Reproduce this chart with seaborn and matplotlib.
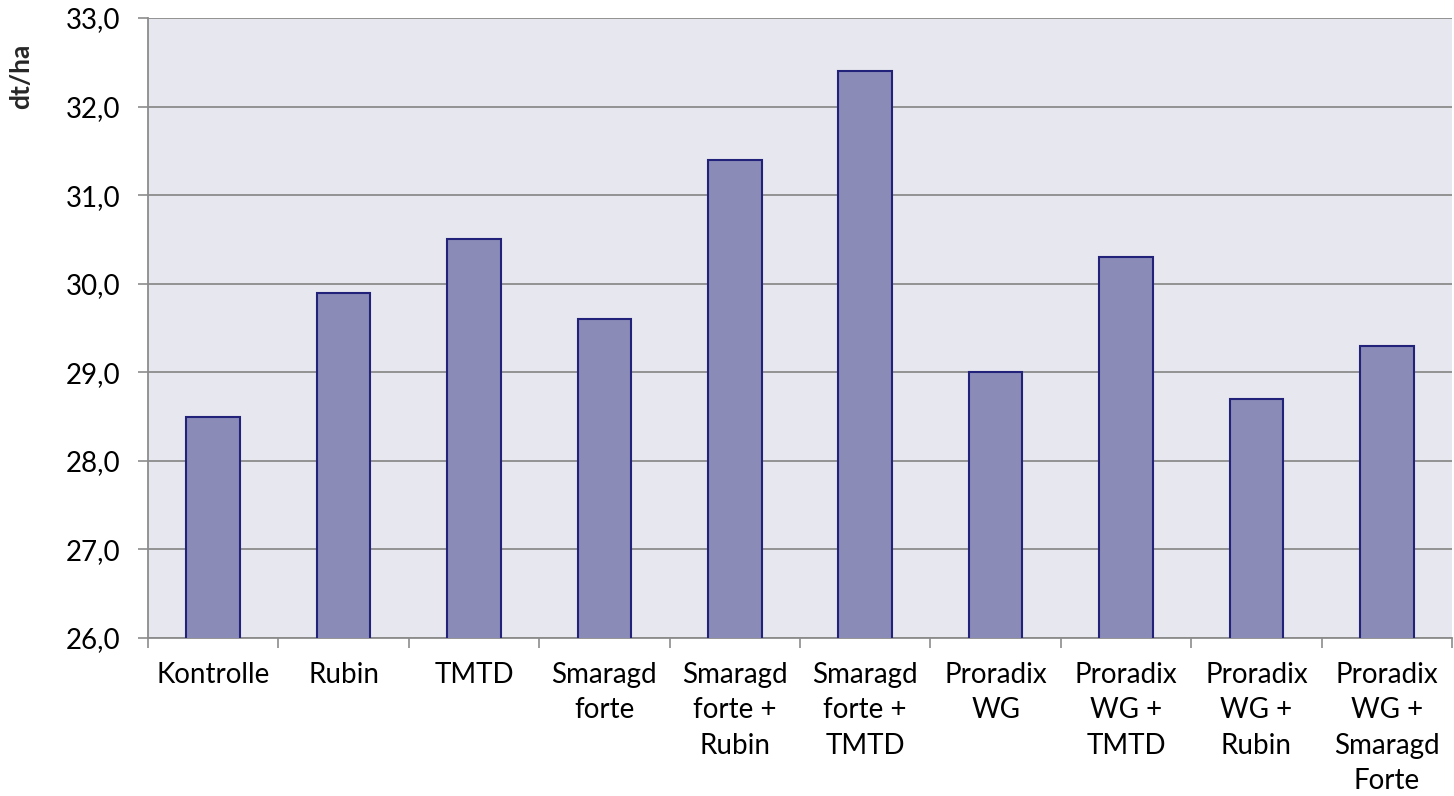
import matplotlib
matplotlib.use("Agg")
import matplotlib.pyplot as plt
import seaborn as sns
import pandas as pd
import numpy as np

categories = ["Kontrolle", "Rubin", "TMTD", "Smaragd\nforte", "Smaragd\nforte +\nRubin",
              "Smaragd\nforte +\nTMTD", "Proradix\nWG", "Proradix\nWG +\nTMTD",
              "Proradix\nWG +\nRubin", "Proradix\nWG +\nSmaragd\nForte"]
values = [28.5, 29.9, 30.5, 29.6, 31.4, 32.4, 29.0, 30.3, 28.7, 29.3]
yticks = [26.0, 27.0, 28.0, 29.0, 30.0, 31.0, 32.0, 33.0]
ylabel = "dt/ha"

sns.set_theme(style="white")
plt.rcParams['font.family'] = ['Lato', 'DejaVu Sans']

df = pd.DataFrame({"cat": categories, "val": values})

fig = plt.figure(figsize=(14.54, 7.96), dpi=100)
ax = fig.add_axes([148/1454, 1-638/796, (1452-148)/1454, 620/796])
ax.set_facecolor("#E7E7EF")

sns.barplot(data=df, x="cat", y="val", color="#8B8BB8", saturation=1, width=0.41,
            edgecolor="#22227A", linewidth=1.5, ax=ax, zorder=3)

ax.set_ylim(26, 33)
ax.set_xlim(-0.5, len(categories) - 0.5)
ax.set_yticks(yticks)
ax.set_yticklabels([f"{t:.1f}".replace(".", ",") for t in yticks], fontsize=20, color="black")
ax.set_xticks(range(len(categories)))
ax.set_xticklabels(categories, fontsize=20, color="black", linespacing=1.45, va="top")
ax.tick_params(axis="x", which="major", length=0, pad=17)
ax.set_xticks(np.arange(-0.5, len(categories), 1.0), minor=True)
ax.tick_params(axis="x", which="minor", length=7, width=1.2, color="#8C8C8C", direction="out", bottom=True)
ax.tick_params(axis="y", which="major", length=7, width=1.2, color="#8C8C8C", direction="out", left=True, pad=13)

ax.yaxis.grid(True, color="#8C8C8C", linewidth=1.3, zorder=1)
ax.set_axisbelow(True)
for s in ["top", "right"]:
    ax.spines[s].set_visible(False)
for s in ["left", "bottom"]:
    ax.spines[s].set_color("#8C8C8C")
    ax.spines[s].set_linewidth(1.3)

ax.set_xlabel("")
ax.set_ylabel(ylabel, fontsize=19, fontweight="bold")
ax.yaxis.set_label_coords(-0.088, 0.906)

fig.savefig("out.png", dpi=100)
